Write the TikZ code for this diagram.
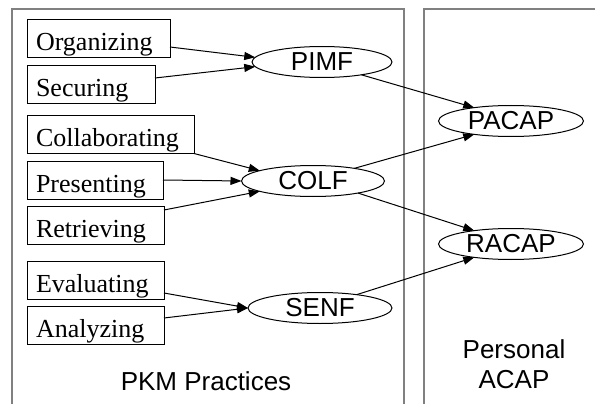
\documentclass[tikz,border=0pt]{standalone}
\usepackage{fontspec}
\setmainfont{Liberation Serif}
\setsansfont{Liberation Sans}
\usetikzlibrary{shapes.geometric,arrows.meta}

\begin{document}
\begin{tikzpicture}[x=1pt,y=-1pt,
        pract/.style={draw, line width=1pt, rectangle, anchor=west, outer sep=0pt,
            inner xsep=9pt, inner ysep=2pt, text height=29pt, text depth=5pt,
            text width=#1, align=left, font=\rmfamily\fontsize{26}{30}\selectfont},
        factor/.style={draw, line width=1pt, ellipse, inner sep=0pt, outer sep=0pt,
            minimum width=#1, minimum height=31pt,
            font=\sffamily\fontsize{26}{30}\selectfont},
        panel/.style={draw=gray, line width=2pt},
        link/.style={-{Triangle[length=11pt,width=8pt]}, line width=1pt}]
        \useasboundingbox (0,0) rectangle (595,404);

        \draw[panel] (12,404) -- (12,9) -- (404,9) -- (404,404);
        \draw[panel] (424,404) -- (424,9) -- (600,9);

        \node[pract=125pt] (org) at (27,39) {Organizing};
        \node[pract=110pt] (sec) at (27,84.5) {Securing};
        \node[pract=149pt] (col) at (27,134.5) {Collaborating};
        \node[pract=118pt] (pres) at (27,180) {Presenting};
        \node[pract=119pt] (ret) at (27,225) {Retrieving};
        \node[pract=119pt] (eval) at (27,280.5) {Evaluating};
        \node[pract=119pt] (ana) at (27,325.5) {Analyzing};

        \node[factor=140pt] (pimf) at (322,62) {PIMF};
        \node[factor=143pt] (colf) at (313,181) {COLF};
        \node[factor=144pt] (senf) at (320,308) {SENF};
        \node[factor=145pt] (pacap) at (511,121) {PACAP};
        \node[factor=145pt] (racap) at (511,244) {RACAP};

        \node[font=\sffamily\fontsize{26}{30}\selectfont] (pkm) at (206,381) {PKM Practices};
        \node[font=\sffamily\fontsize{26}{30}\selectfont, align=center] (acap) at (514,364) {Personal\\ACAP};

        \draw[link] ([yshift=-8pt]org.east) -- (pimf.176);
        \draw[link] ([yshift=6.5pt]sec.east) -- (pimf.184);
        \draw[link] (col.south east) -- (colf.169);
        \draw[link] (pres.east) -- (colf.west);
        \draw[link] ([yshift=15pt]ret.east) -- (colf.191);
        \draw[link] ([yshift=-12.5pt]eval.east) -- (senf.west);
        \draw[link] ([yshift=7.5pt]ana.east) -- (senf.west);

        \draw[link] (pimf.-18) -- (pacap.160);
        \draw[link] (colf.17) -- (pacap.200);
        \draw[link] (colf.-15) -- (racap.160);
        \draw[link] (senf.20) -- (racap.200);
\end{tikzpicture}
\end{document}
